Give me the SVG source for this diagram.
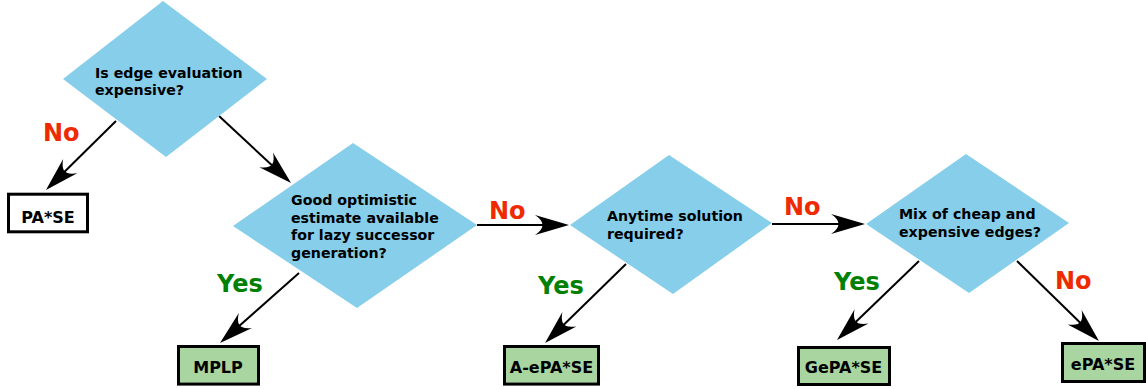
<svg xmlns="http://www.w3.org/2000/svg" width="1146" height="389" viewBox="0 0 1146 389">
  <style>
    .decision { fill: #87ceeb; stroke: none; }
    .result { fill: #a8d5a0; stroke: #000; stroke-width: 3; }
    .start-result { fill: #fff; stroke: #000; stroke-width: 3; }
    .q { font-family: "DejaVu Sans", "Liberation Sans", sans-serif; font-weight: bold; font-size: 14.2px; fill: #000; }
    .r { font-family: "DejaVu Sans", "Liberation Sans", sans-serif; font-weight: bold; font-size: 16px; fill: #000; text-anchor: middle; }
    .no { font-family: "DejaVu Sans", "Liberation Sans", sans-serif; font-weight: bold; font-size: 24px; fill: #f02a00; }
    .yes { font-family: "DejaVu Sans", "Liberation Sans", sans-serif; font-weight: bold; font-size: 24px; fill: #008000; }
    .edge { fill: none; stroke: #000; stroke-width: 2; marker-end: url(#head); }
  </style>
  <defs>
    <!-- notched arrowhead; tip sits 4px past the line end -->
    <marker id="head" markerUnits="userSpaceOnUse" markerWidth="40" markerHeight="24" viewBox="-34 -12 40 24" refX="0" refY="0" orient="auto" overflow="visible">
      <path d="M4 0 L-30 -10 C-20 -3 -20 3 -30 10 Z" fill="#000"/>
    </marker>
  </defs>

  <g id="connectors">
    <path class="edge" d="M116 121 L48.8 187.2"/>
    <path class="edge" d="M219 116 L288.1 180.3"/>
    <path class="edge" d="M299 273 L223 340.3"/>
    <path class="edge" d="M477 225 L565 225"/>
    <path class="edge" d="M626 264 L547.9 340.2"/>
    <path class="edge" d="M772 224 L861 224"/>
    <path class="edge" d="M919 261 L839.9 337.2"/>
    <path class="edge" d="M1017 261 L1096.1 338.2"/>
  </g>

  <g id="edge-labels">
    <text class="no" x="43" y="141">No</text>
    <text class="yes" x="217" y="292">Yes</text>
    <text class="no" x="489" y="219">No</text>
    <text class="yes" x="538" y="294">Yes</text>
    <text class="no" x="784" y="215">No</text>
    <text class="yes" x="834" y="290">Yes</text>
    <text class="no" x="1055" y="289">No</text>
  </g>

  <g id="q-edge-cost">
    <polygon class="decision" points="163,1 267,79 166,157 63,79"/>
    <text class="q" x="95" y="77.5">Is edge evaluation</text>
    <text class="q" x="95" y="95">expensive?</text>
  </g>

  <g id="q-lazy-estimate">
    <polygon class="decision" points="353,143 477,225 357,308 233,226"/>
    <text class="q" x="291" y="205">Good optimistic</text>
    <text class="q" x="291" y="222.7">estimate available</text>
    <text class="q" x="291" y="240.4">for lazy successor</text>
    <text class="q" x="291" y="258">generation?</text>
  </g>

  <g id="q-anytime">
    <polygon class="decision" points="669,155 772,223 673,294 570,225"/>
    <text class="q" x="607" y="221">Anytime solution</text>
    <text class="q" x="607" y="239">required?</text>
  </g>

  <g id="q-mixed-edges">
    <polygon class="decision" points="966,154 1069,223 969,293 866,224"/>
    <text class="q" x="899" y="219">Mix of cheap and</text>
    <text class="q" x="899" y="237">expensive edges?</text>
  </g>

  <g id="pase">
    <rect class="start-result" x="8.5" y="194.2" width="79" height="37.6"/>
    <text class="r" x="48" y="223">PA*SE</text>
  </g>

  <g id="mplp">
    <rect class="result" x="178.5" y="346.5" width="80" height="37.6"/>
    <text class="r" x="218" y="373">MPLP</text>
  </g>

  <g id="a-epase">
    <rect class="result" x="504.5" y="346.5" width="94" height="37.6"/>
    <text class="r" x="551.5" y="373">A-ePA*SE</text>
  </g>

  <g id="gepase">
    <rect class="result" x="798.5" y="347.5" width="91" height="37"/>
    <text class="r" x="843.5" y="373.3">GePA*SE</text>
  </g>

  <g id="epase">
    <rect class="result" x="1062.5" y="343.5" width="82" height="38"/>
    <text class="r" x="1103" y="370">ePA*SE</text>
  </g>
</svg>
